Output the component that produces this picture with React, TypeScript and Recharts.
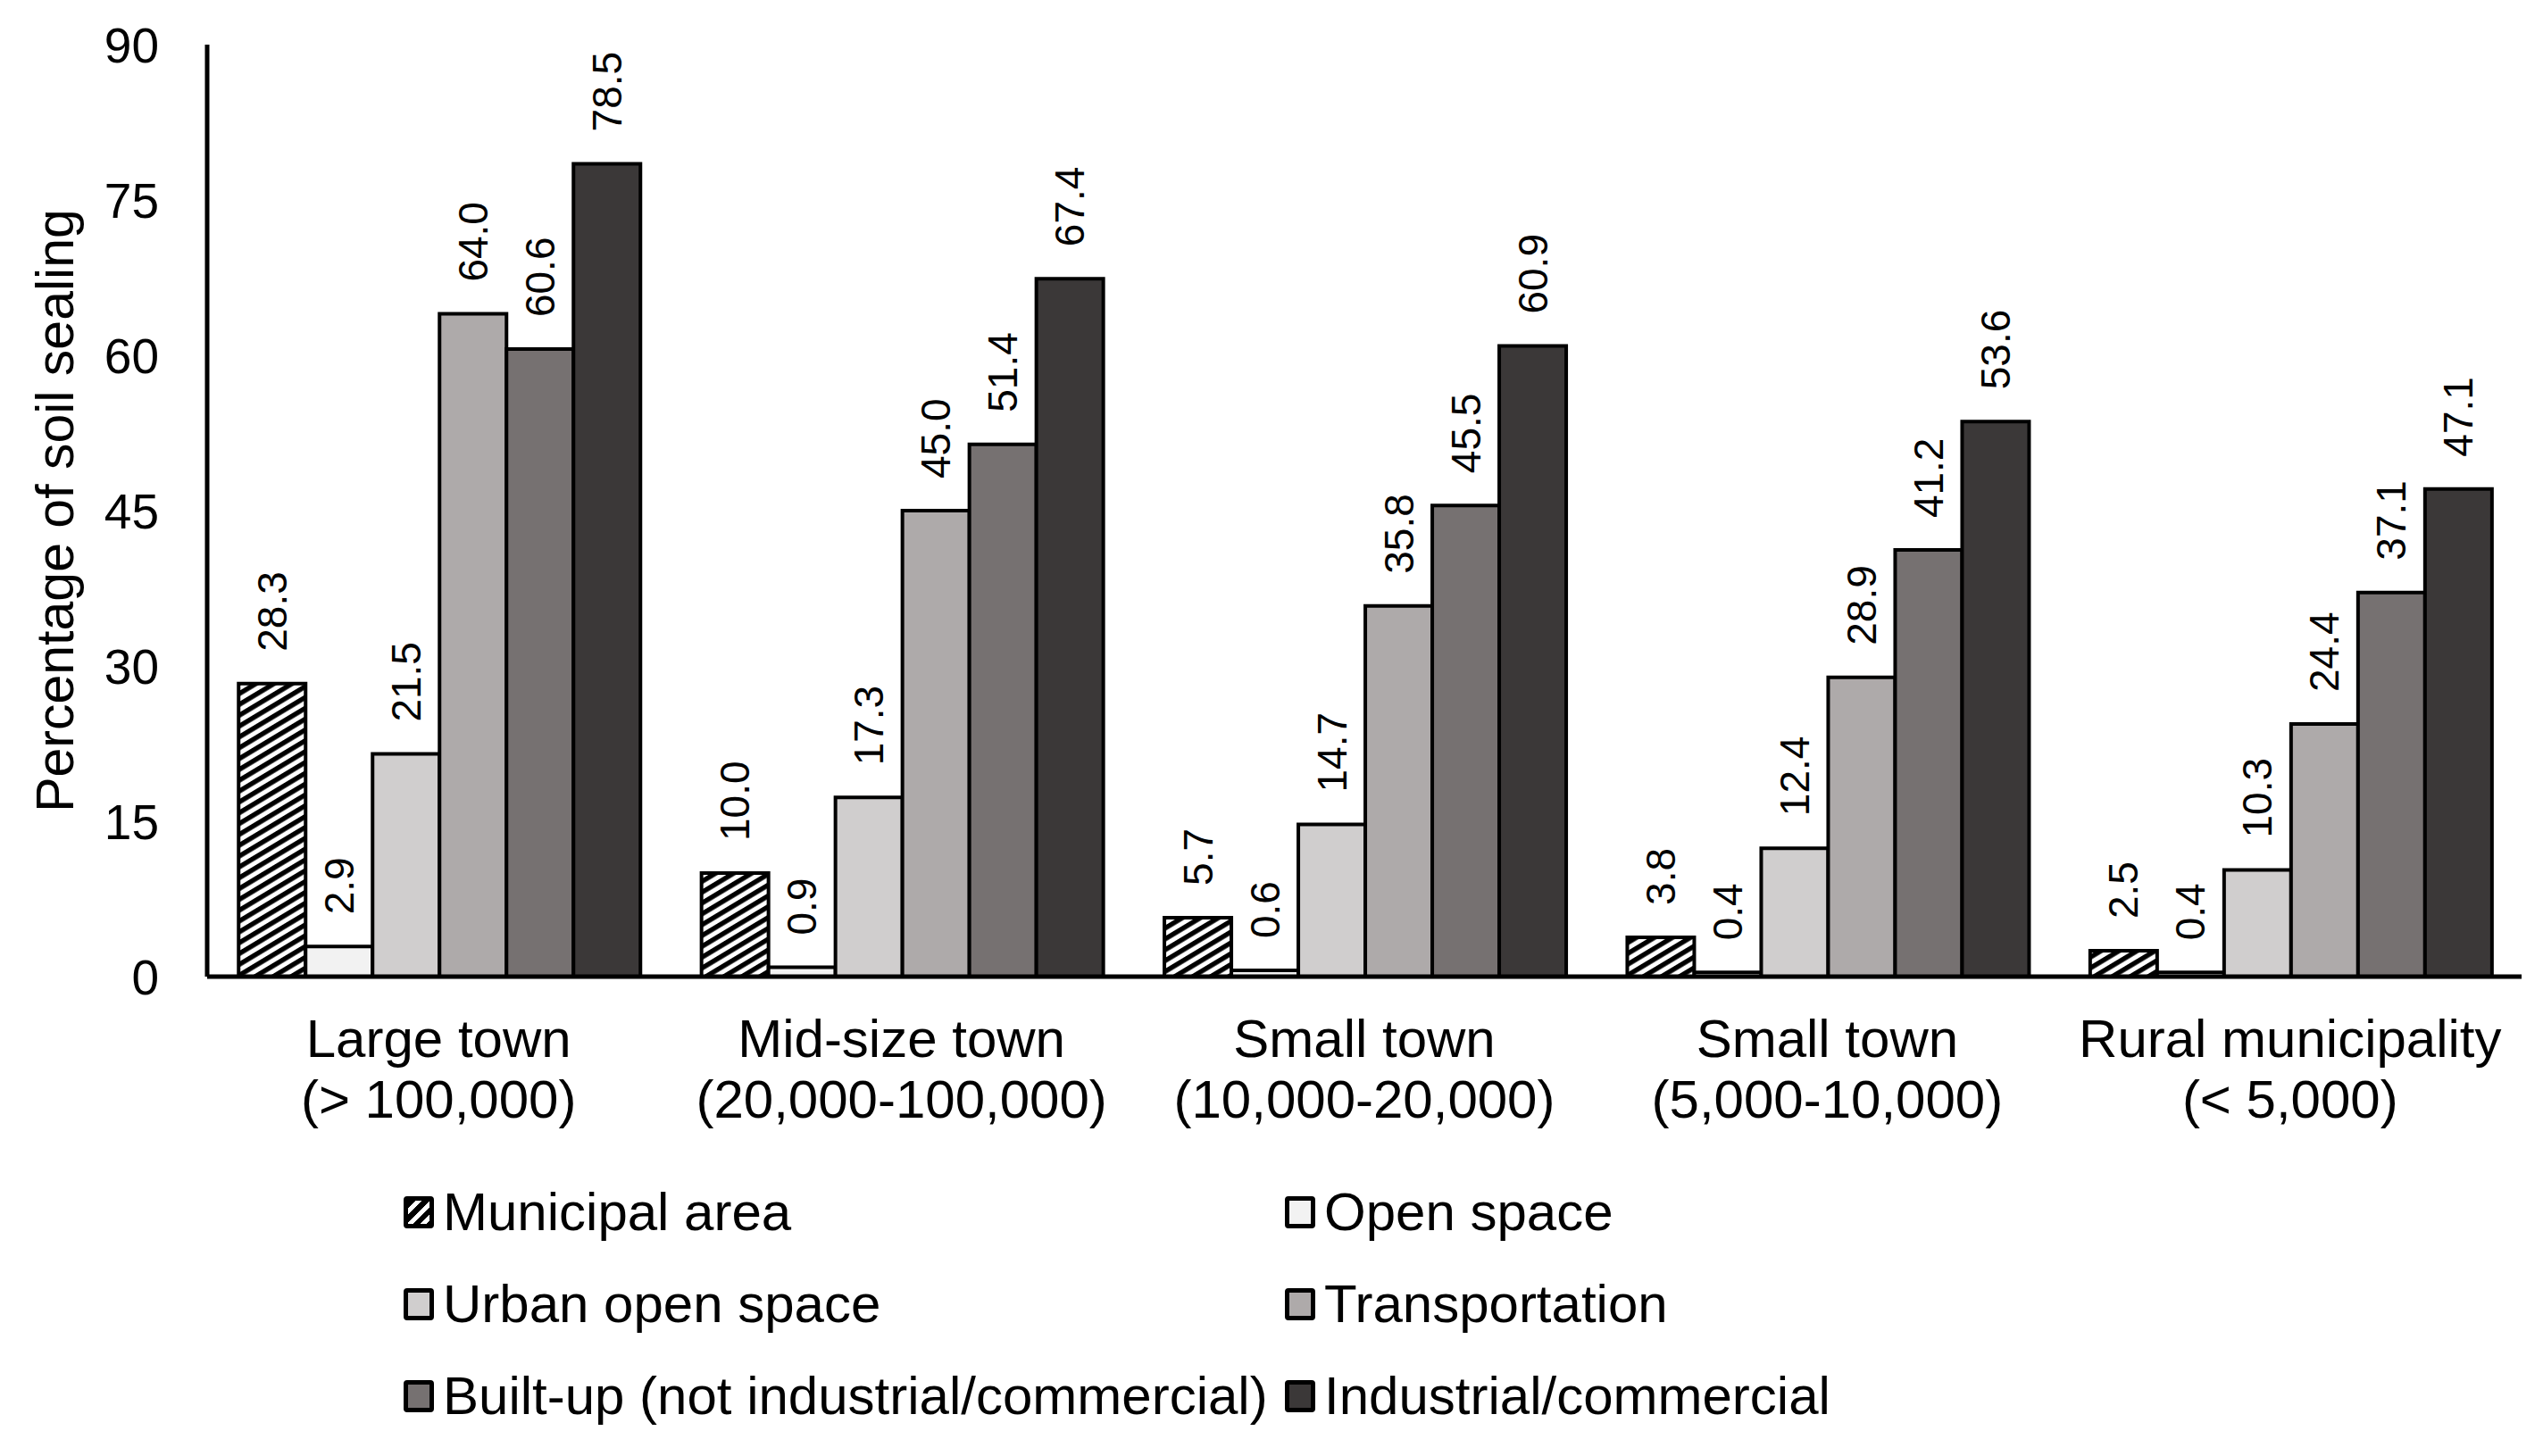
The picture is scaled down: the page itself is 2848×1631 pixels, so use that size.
import {
  Bar,
  BarChart,
  LabelList,
  Legend,
  XAxis,
  YAxis,
} from "recharts";

const townTypes = ["Large town", "Mid-size town", "Small town", "Small town", "Rural municipality"];
const townSizes = ["(> 100,000)", "(20,000-100,000)", "(10,000-20,000)", "(5,000-10,000)", "(< 5,000)"];

const municipalArea = [28.3, 10.0, 5.7, 3.8, 2.5];
const openSpace = [2.9, 0.9, 0.6, 0.4, 0.4];
const urbanOpenSpace = [21.5, 17.3, 14.7, 12.4, 10.3];
const transportation = [64.0, 45.0, 35.8, 28.9, 24.4];
const builtUp = [60.6, 51.4, 45.5, 41.2, 37.1];
const industrial = [78.5, 67.4, 60.9, 53.6, 47.1];

const yTicks = [0, 15, 30, 45, 60, 75, 90];

const FONT = "'Liberation Sans', Arial, sans-serif";

const series = [
  { key: "municipal", name: "Municipal area", values: municipalArea, fill: "url(#hatch)", swatch: "hatch" },
  { key: "open", name: "Open space", values: openSpace, fill: "#f2f2f2", swatch: "#f2f2f2" },
  { key: "urban", name: "Urban open space", values: urbanOpenSpace, fill: "#d0cece", swatch: "#d0cece" },
  { key: "transport", name: "Transportation", values: transportation, fill: "#aeaaaa", swatch: "#aeaaaa" },
  { key: "builtup", name: "Built-up (not industrial/commercial)", values: builtUp, fill: "#767171", swatch: "#767171" },
  { key: "industrial", name: "Industrial/commercial", values: industrial, fill: "#3b3838", swatch: "#3b3838" },
];

const data = townTypes.map((t, i) => {
  const row: Record<string, string | number> = { name: `${t} ${townSizes[i]}`, idx: i };
  series.forEach((s) => {
    row[s.key] = s.values[i];
  });
  return row;
});

function CategoryTick(props: any) {
  const { x, y, payload } = props;
  const i = data.findIndex((d) => d.name === payload.value);
  return (
    <text x={x} y={y} textAnchor="middle" fontFamily={FONT} fontSize={60} fill="#000">
      <tspan x={x} dy={90}>{townTypes[i]}</tspan>
      <tspan x={x} dy={68}>{townSizes[i]}</tspan>
    </text>
  );
}

function ValueLabel(props: any) {
  const { x, y, width, value } = props;
  const cx = x + width / 2;
  const ty = y - 36;
  return (
    <text
      x={cx}
      y={ty}
      transform={`rotate(-90 ${cx} ${ty})`}
      textAnchor="start"
      dominantBaseline="central"
      fontFamily={FONT}
      fontSize={46}
      fill="#000"
    >
      {Number(value).toFixed(1)}
    </text>
  );
}

function AxisTitle(props: any) {
  const { viewBox } = props;
  const cy = viewBox.y + viewBox.height / 2;
  return (
    <text
      x={54}
      y={cy}
      transform={`rotate(-90 54 ${cy})`}
      textAnchor="middle"
      dominantBaseline="central"
      fontFamily={FONT}
      fontSize={59}
      fill="#000"
    >
      Percentage of soil sealing
    </text>
  );
}

function LegendBox() {
  return (
    <div
      style={{
        display: "grid",
        gridTemplateColumns: "987px 987px",
        gridAutoRows: "103px",
        fontFamily: FONT,
        fontSize: 60,
        color: "#000",
      }}
    >
      {series.map((s) => (
        <div key={s.key} style={{ display: "flex", alignItems: "center", whiteSpace: "nowrap" }}>
          <span
            style={{
              display: "inline-block",
              boxSizing: "border-box",
              width: 34,
              height: 36,
              border: "5px solid #000",
              borderRadius: 4,
              background:
                s.swatch === "hatch"
                  ? "repeating-linear-gradient(135deg, #000 0px, #000 6px, #fff 6px, #fff 11px)"
                  : s.swatch,
              marginRight: 10,
            }}
          />
          {s.name}
        </div>
      ))}
    </div>
  );
}

export default function App() {
  return (
    <BarChart
      width={2832}
      height={1615}
      data={data}
      margin={{ top: 42, right: 16, bottom: 329, left: 0 }}
      barCategoryGap="6.8%"
      barGap={0}
    >
      <defs>
        <pattern id="hatch" patternUnits="userSpaceOnUse" width="10.4" height="10.4" patternTransform="rotate(59)">
          <rect width="10.4" height="10.4" fill="#fff" />
          <rect width="5.4" height="10.4" fill="#000" />
        </pattern>
      </defs>
      <XAxis
        dataKey="name"
        height={200}
        tick={<CategoryTick />}
        tickLine={false}
        tickSize={0}
        tickMargin={0}
        interval={0}
        axisLine={{ stroke: "#000", strokeWidth: 5 }}
      />
      <YAxis
        width={224}
        domain={[0, 90]}
        ticks={yTicks}
        interval={0}
        tickLine={false}
        tickSize={0}
        tickMargin={54}
        axisLine={{ stroke: "#000", strokeWidth: 5 }}
        tick={{ fill: "#000", fontSize: 55, fontFamily: FONT }}
        label={<AxisTitle />}
      />
      <Legend
        layout="horizontal"
        verticalAlign="middle"
        align="center"
        content={<LegendBox />}
        wrapperStyle={{ top: 1298, left: 444, width: 2000 }}
      />
      {series.map((s) => (
        <Bar
          key={s.key}
          dataKey={s.key}
          name={s.name}
          fill={s.fill}
          stroke="#000"
          strokeWidth={4}
          isAnimationActive={false}
        >
          <LabelList dataKey={s.key} content={<ValueLabel />} />
        </Bar>
      ))}
    </BarChart>
  );
}
